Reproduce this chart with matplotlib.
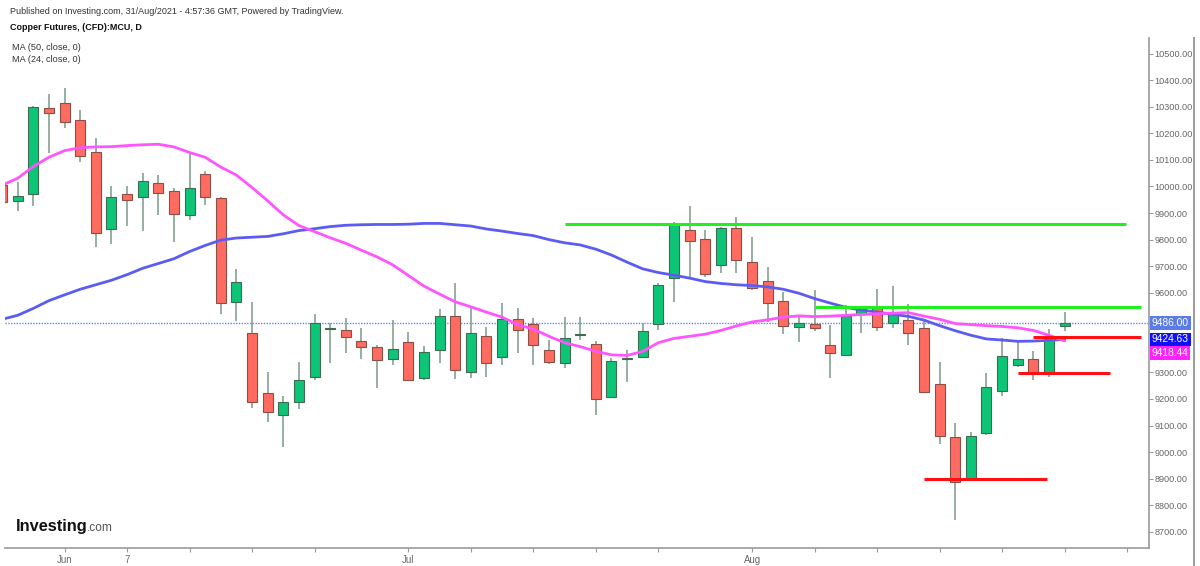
import numpy as np
import matplotlib
matplotlib.use("Agg")
import matplotlib.pyplot as plt
from matplotlib.lines import Line2D

plt.rcParams['font.family'] = ['Liberation Sans', 'DejaVu Sans']

# daily candles, bar -1 is the one cut off at the left edge
opens = [10006, 9947, 9971, 10297, 10315, 10250, 10131, 9839, 9972, 9959,
         10014, 9983, 9891, 10046, 9955, 9566, 9447, 9224, 9138, 9190,
         9281, 9463, 9461, 9417, 9397, 9349, 9413, 9279, 9384, 9512,
         9303, 9438, 9359, 9500, 9481, 9383, 9336, 9441, 9406, 9209,
         9351, 9359, 9482, 9657, 9836, 9801, 9703, 9845, 9717, 9645,
         9568, 9472, 9482, 9403, 9366, 9519, 9544, 9485, 9497, 9466,
         9255, 9058, 8898, 9073, 9230, 9327, 9350, 9296, 9476]
highs = [10020, 10016, 10304, 10347, 10370, 10288, 10181, 10000, 10002, 10050,
         10043, 9993, 10122, 10060, 9962, 9689, 9566, 9300, 9212, 9338,
         9520, 9485, 9505, 9467, 9402, 9497, 9451, 9401, 9539, 9635,
         9541, 9471, 9562, 9544, 9505, 9422, 9507, 9510, 9417, 9353,
         9384, 9487, 9635, 9865, 9927, 9836, 9849, 9886, 9809, 9696,
         9604, 9512, 9611, 9479, 9554, 9547, 9613, 9625, 9556, 9497,
         9340, 9111, 9077, 9296, 9431, 9422, 9380, 9462, 9529]
lows = [9920, 9909, 9926, 10127, 10219, 10093, 9771, 9783, 9851, 9832,
        9893, 9792, 9874, 9930, 9520, 9495, 9165, 9114, 9020, 9161,
        9271, 9337, 9372, 9349, 9240, 9328, 9268, 9271, 9334, 9275,
        9279, 9284, 9328, 9372, 9328, 9332, 9318, 9422, 9138, 9203,
        9265, 9357, 9460, 9566, 9660, 9660, 9673, 9675, 9612, 9491,
        9444, 9415, 9457, 9278, 9366, 9447, 9457, 9466, 9403, 9222,
        9030, 8745, 8898, 9063, 9211, 9321, 9272, 9281, 9457]
closes = [9943, 9965, 10298, 10278, 10244, 10115, 9824, 9962, 9949, 10021,
          9974, 9896, 9995, 9962, 9560, 9639, 9190, 9150, 9188, 9270,
          9487, 9467, 9434, 9394, 9346, 9388, 9272, 9377, 9512, 9309,
          9447, 9334, 9500, 9460, 9402, 9340, 9429, 9446, 9200, 9343,
          9355, 9456, 9629, 9855, 9796, 9669, 9843, 9722, 9617, 9561,
          9473, 9485, 9468, 9372, 9512, 9541, 9470, 9526, 9447, 9227,
          9060, 8888, 9062, 9247, 9360, 9350, 9302, 9425, 9486]

ma24 = [10005, 10031, 10075, 10110, 10135, 10146, 10149, 10150, 10154, 10157,
        10159, 10149, 10128, 10110, 10073, 10043, 9996, 9946, 9893, 9853,
        9830, 9807, 9786, 9760, 9735, 9705, 9665, 9625, 9595, 9566,
        9547, 9527, 9508, 9480, 9463, 9436, 9412, 9397, 9380, 9366,
        9364, 9379, 9412, 9428, 9436, 9444, 9458, 9475, 9490, 9498,
        9508, 9513, 9510, 9512, 9515, 9518, 9521, 9523, 9525, 9512,
        9500, 9484, 9480, 9476, 9473, 9468, 9458, 9440, 9418.44]
ma50 = [9500, 9515, 9541, 9570, 9592, 9613, 9630, 9647, 9668, 9692,
        9710, 9728, 9755, 9778, 9798, 9806, 9809, 9812, 9822, 9834,
        9841, 9849, 9854, 9856, 9857, 9857, 9858, 9861, 9861, 9856,
        9851, 9840, 9832, 9823, 9815, 9800, 9788, 9780, 9764, 9742,
        9715, 9690, 9676, 9666, 9655, 9642, 9635, 9630, 9627, 9622,
        9613, 9598, 9578, 9561, 9545, 9535, 9527, 9519, 9511, 9497,
        9476, 9457, 9440, 9426, 9422, 9417, 9418, 9421, 9424.63]

# hand drawn levels: (price, first bar, last bar, colour)
levels = [(9857, 35, 70.9, '#22ee22'),
          (9545, 51, 71.9, '#22ee22'),
          (9432, 65, 71.9, '#ff1111'),
          (9296, 64, 69.9, '#ff1111'),
          (8898, 58, 65.9, '#ff1111')]

last_price = 9486.00
tick_bars = [3, 7, 11, 15, 19, 25, 29, 33, 37, 41, 47, 51, 55, 59, 63, 67, 71]
tick_names = ['Jun', '7', '', '', '', 'Jul', '', '', '', '', 'Aug', '', '', '', '', '', '']
price_ticks = np.arange(8700, 10501, 100)

bars = np.arange(-1, len(opens) - 1)
o = np.array(opens, float)
c = np.array(closes, float)
up = c >= o

fig = plt.figure(figsize=(12, 5.66), dpi=100)
ax = fig.add_axes([5 / 1200, 18 / 566, 1144 / 1200, 510 / 566])

# candles
wick_col = '#7b9988'
ax.vlines(bars, lows, highs, color=wick_col, lw=1.1, zorder=2)
body = np.where(np.abs(c - o) < 3, 3, c - o)
ax.bar(bars[up], body[up], bottom=o[up], width=0.64, color='#0dc576',
       edgecolor='#3f6b52', linewidth=0.8, zorder=3)
ax.bar(bars[~up], body[~up], bottom=o[~up], width=0.64, color='#ff6b60',
       edgecolor='#8a5048', linewidth=0.8, zorder=3)

# moving averages
ax.plot(bars, ma50, color='#5c5cf2', lw=2.0, zorder=4, solid_capstyle='round')
ax.plot(bars, ma24, color='#ff55ff', lw=2.0, zorder=4, solid_capstyle='round')

for price, b0, b1, col in levels:
    ax.hlines(price, b0, b1, color=col, lw=2.2, zorder=5)

ax.axhline(last_price, color='#6680ff', lw=1.0, ls=(0, (1, 1)), zorder=1)

ax.set_xlim(-0.81, 72.4)
ax.set_ylim(8639, 10559)

for side in ['top', 'left']:
    ax.spines[side].set_visible(False)
for side in ['bottom', 'right']:
    ax.spines[side].set_color('#9a9a9a')
    ax.spines[side].set_linewidth(1.2)

# 9400 / 9500 sit under the price tags on the scale
hidden = (9400, 9500)
ax.yaxis.tick_right()
ax.set_yticks(price_ticks)
ax.set_yticklabels(['' if p in hidden else f'{p:.2f}' for p in price_ticks])
ax.set_xticks(tick_bars)
ax.set_xticklabels(tick_names)
ax.tick_params(axis='both', colors='#9a9a9a', labelcolor='#666666',
               labelsize=6.6, length=3, width=0.8, pad=1)
ax.tick_params(axis='x', labelsize=6.9, pad=2)

# price labels on the scale
tags = [(last_price, '#5b7be6', 0), (ma50[-1], '#1111f5', 0), (ma24[-1], '#ff22ff', -12)]
for val, col, dy in tags:
    ax.annotate(f'{val:.2f}', xy=(1, val), xycoords=('axes fraction', 'data'),
                xytext=(3, dy), textcoords='offset pixels', va='center', ha='left',
                fontsize=7.4, color='white', zorder=10, annotation_clip=False,
                bbox=dict(boxstyle='square,pad=0.15', fc=col, ec='none'))

fig.add_artist(Line2D([1194 / 1200, 1194 / 1200], [0, 528 / 566],
                      color='#9a9a9a', lw=1.4))

fig.text(10 / 1200, 1 - 12 / 566,
         'Published on Investing.com, 31/Aug/2021 - 4:57:36 GMT, Powered by TradingView.',
         fontsize=6.5, color='#333333', va='center')
fig.text(10 / 1200, 1 - 27 / 566, 'Copper Futures, (CFD):MCU, D',
         fontsize=6.45, fontweight='bold', color='#111111', va='center')
fig.text(12 / 1200, 1 - 48 / 566, 'MA (50, close, 0)', fontsize=6.6,
         color='#333333', va='center')
fig.text(12 / 1200, 1 - 59.5 / 566, 'MA (24, close, 0)', fontsize=6.6,
         color='#333333', va='center')

# logo
fig.text(16 / 1200, 1 - 531 / 566, 'Investing', fontsize=11.8, fontweight='bold',
         color='#111111', va='baseline')
fig.text(86.5 / 1200, 1 - 531 / 566, '.com', fontsize=8.6, color='#555555',
         va='baseline')

fig.savefig('out.png', dpi=100, facecolor='white')
